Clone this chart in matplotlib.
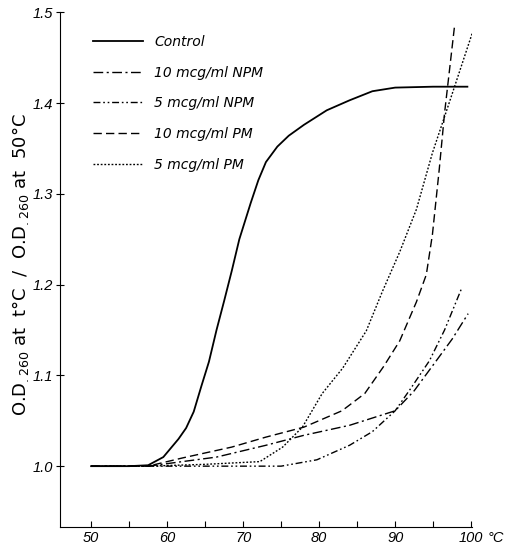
import numpy as np
import matplotlib
matplotlib.use("Agg")
import matplotlib.pyplot as plt

# Temperatura (°C) e razão O.D.260(t) / O.D.260(50 °C)
control_t = [50, 55, 57.5, 59.5, 61.5, 62.5, 63.5, 64.5, 65.5, 66.5, 67.5,
             68.5, 69.5, 71, 72, 73, 74.5, 76, 78, 81, 84, 87, 90, 95, 99.5]
control_od = [1.0, 1.0, 1.001, 1.01, 1.03, 1.042, 1.06, 1.088, 1.115, 1.15,
              1.182, 1.215, 1.25, 1.29, 1.315, 1.335, 1.352, 1.364, 1.376,
              1.392, 1.403, 1.413, 1.417, 1.418, 1.418]

npm10_t = [50, 57.5, 62, 66.5, 73, 78, 84, 90, 92.5, 95.4, 97.5, 99.6]
npm10_od = [1.0, 1.0, 1.005, 1.010, 1.023, 1.034, 1.045, 1.061, 1.083, 1.116,
            1.14, 1.168]

npm5_t = [50, 57.5, 65, 75, 79.7, 84, 87, 90, 92, 94.5, 96.5, 98.7]
npm5_od = [1.0, 1.0, 1.0, 1.0, 1.007, 1.023, 1.038, 1.061, 1.085, 1.116,
           1.15, 1.195]

pm10_t = [50, 57.5, 62, 68.5, 73, 78, 83, 86, 88.5, 90.6, 92.8, 94.1, 94.9,
          95.8, 96.5, 97.8]
pm10_od = [1.0, 1.0, 1.009, 1.021, 1.032, 1.043, 1.061, 1.08, 1.11, 1.138,
           1.181, 1.211, 1.255, 1.327, 1.389, 1.484]

pm5_t = [50, 57.5, 65, 72.2, 75.2, 77.8, 80.4, 83.1, 86.2, 88.3, 90.6, 92.8,
         94.9, 97.1, 100.3]
pm5_od = [1.0, 1.0, 1.002, 1.005, 1.021, 1.043, 1.08, 1.108, 1.149, 1.192,
          1.236, 1.283, 1.345, 1.40, 1.481]

xticks = [50, 55, 60, 65, 70, 75, 80, 85, 90, 95, 100]
xticklabels = ["50", "", "60", "", "70", "", "80", "", "90", "", "100"]
yticks = [1.0, 1.1, 1.2, 1.3, 1.4, 1.5]

fig = plt.figure(figsize=(5.08, 5.47), dpi=100)
ax = fig.add_axes([0.118, 0.0366, 0.811, 0.941])

ax.plot(control_t, control_od, color="black", lw=1.3, linestyle="-",
        label="Control")
ax.plot(npm10_t, npm10_od, color="black", lw=1.0,
        linestyle=(0, (7, 2.5, 1.5, 2.5)), label="10 mcg/ml NPM")
ax.plot(npm5_t, npm5_od, color="black", lw=1.0,
        linestyle=(0, (5, 2, 1.2, 2, 1.2, 2)), label="5 mcg/ml NPM")
ax.plot(pm10_t, pm10_od, color="black", lw=1.0,
        linestyle=(0, (6, 3)), label="10 mcg/ml PM")
ax.plot(pm5_t, pm5_od, color="black", lw=1.0,
        linestyle=(0, (1.3, 1.3)), label="5 mcg/ml PM")

ax.set_xlim(45.9, 100.1)
ax.set_ylim(0.933, 1.5)

ax.spines["top"].set_visible(False)
ax.spines["right"].set_visible(False)

tick_font = {"family": "Liberation Sans", "style": "italic", "size": 10.5}
ax.set_xticks(xticks)
ax.set_xticklabels(xticklabels, fontdict=tick_font)
ax.set_yticks(yticks)
ax.set_yticklabels([f"{v:.1f}" for v in yticks], fontdict=tick_font)
ax.tick_params(axis="x", direction="in", length=4, pad=3)
ax.tick_params(axis="y", direction="inout", length=6, pad=2)

ax.annotate("°C", xy=(1, 0), xycoords="axes fraction", xytext=(11, -3),
            textcoords="offset points", ha="left", va="top", **tick_font)

ax.set_ylabel("O.D$_{.260}$ at  t°C  /  O.D$_{.260}$ at  50°C", fontsize=13)
ax.yaxis.set_label_coords(-0.07, 0.51)

leg = ax.legend(loc="upper left", bbox_to_anchor=(93 / 508, 1 - 35 / 547),
                bbox_transform=fig.transFigure, frameon=False,
                borderpad=0, borderaxespad=0, handlelength=3.6,
                handletextpad=0.8, labelspacing=1.2,
                prop={"style": "italic", "size": 10})

fig.savefig("out.png", dpi=100)
